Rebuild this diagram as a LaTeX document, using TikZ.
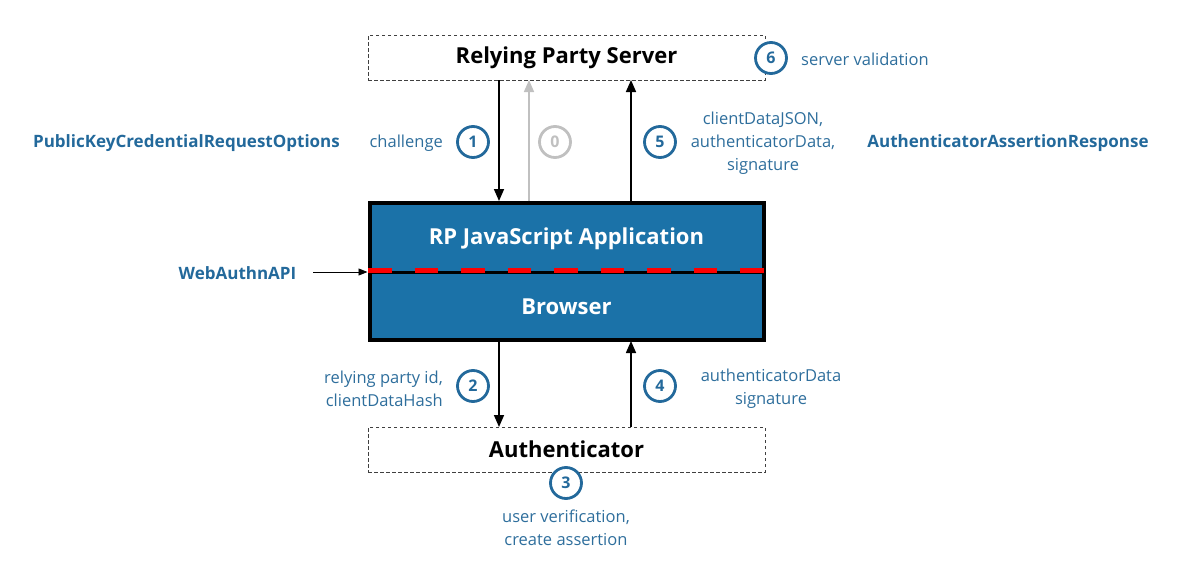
\documentclass[tikz,border=0pt]{standalone}
\usepackage{fontspec}
\setmainfont{Open Sans}
\usetikzlibrary{arrows.meta}
\definecolor{boxblue}{HTML}{1B72A8}
\definecolor{txtblue}{HTML}{2E6E9C}
\definecolor{numblue}{HTML}{23699B}
\definecolor{lgray}{HTML}{C0C0C0}
\tikzset{
  party/.style={draw=black!75, dashed, dash pattern=on 3.5pt off 2.5pt, line width=0.8pt, minimum width=397pt, minimum height=45pt, inner sep=0pt, font=\fontsize{22}{24}\selectfont\bfseries},
  lbl/.style={text=txtblue, font=\fontsize{16.5}{23}\selectfont, inner sep=0pt, align=center},
  blbl/.style={text=numblue, font=\fontsize{17}{20}\selectfont\bfseries, inner sep=0pt},
  num/.style={circle, draw=numblue, fill=white, line width=2.8pt, minimum size=31pt, inner sep=0pt, text=numblue, font=\fontsize{16}{18}\selectfont\bfseries},
  gnum/.style={num, draw=lgray, text=lgray},
  flow/.style={line width=1.6pt, -{Triangle[length=12pt,width=10pt]}},
  wtext/.style={text=white, font=\fontsize{22}{24}\selectfont\bfseries, inner sep=0pt}
}
\begin{document}
\begin{tikzpicture}[x=1pt,y=-1pt]
\useasboundingbox (0,0) rectangle (1187,562);
% boxes
\node[party] (rps) at (566.5,57.5) {Relying Party Server};
\node[party] (auth) at (566.5,449.5) {Authenticator};
\node[draw=black, line width=4pt, fill=boxblue, minimum width=394pt, minimum height=137pt, inner sep=0pt] (app) at (566.5,271) {};
\coordinate (divl) at (368,271);
\coordinate (divr) at (765,271);
\draw[line width=3pt, black] ([yshift=-1.5pt]divl) -- ([yshift=-1.5pt]divr);
\draw[line width=5pt, red, dash pattern=on 23.5pt off 23pt] ([yshift=1pt]divl) -- ([yshift=1pt]divr);
\node[wtext] (rpjs) at (566.5,239) {RP JavaScript Application};
\node[wtext] (brw) at (566.5,307) {Browser};
% arrow anchors
\coordinate (a1t) at (499,80); \coordinate (a1b) at (499,201);
\coordinate (a0t) at (529,80); \coordinate (a0b) at (529,201);
\coordinate (a5t) at (631,80); \coordinate (a5b) at (631,201);
\coordinate (a2t) at (499,341); \coordinate (a2b) at (499,427);
\coordinate (a4t) at (631,341); \coordinate (a4b) at (631,427);
\draw[flow] (a1t) -- (a1b);
\draw[flow, lgray] (a0b) -- (a0t);
\draw[flow] (a5b) -- (a5t);
\draw[flow] (a2t) -- (a2b);
\draw[flow] (a4b) -- (a4t);
% numbers
\node[num] (n1) at (473,142) {1};
\node[gnum] (n0) at (555,142) {0};
\node[num] (n5) at (660,142) {5};
\node[num] (n6) at (771,58) {6};
\node[num] (n2) at (473,386) {2};
\node[num] (n4) at (660,386) {4};
\node[num] (n3) at (566,483) {3};
% labels
\node[lbl, anchor=east] (l1) at (443,143.5) {challenge};
\node[lbl] (l5) at (763,143) {clientDataJSON,\\authenticatorData,\\signature};
\node[lbl, anchor=west] (l6) at (801,59.5) {server validation};
\node[lbl, align=right, anchor=east] (l2) at (443,388.5) {relying party id,\\clientDataHash};
\node[lbl] (l4) at (771,388.5) {authenticatorData\\signature};
\node[lbl] (l3) at (566,527.5) {user verification,\\create assertion};
\node[blbl] (pkc) at (186.5,143.5) {PublicKeyCredentialRequestOptions};
\node[blbl] (aar) at (1008,143.5) {AuthenticatorAssertionResponse};
\node[blbl] (wa) at (237.5,273) {WebAuthnAPI};
\draw[line width=0.9pt, -{Triangle[length=9pt,width=7pt]}] (313,272) -- (app.west |- 0,272);
\end{tikzpicture}
\end{document}
